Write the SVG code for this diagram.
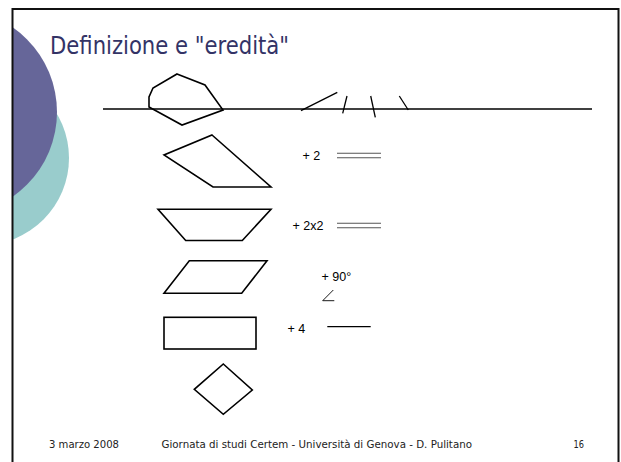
<svg xmlns="http://www.w3.org/2000/svg" width="621" height="462" viewBox="0 0 621 462">
<defs>
<style>
.sh{fill:none;stroke:#000;stroke-width:1.6;stroke-linejoin:miter}
.ln{stroke:#000;stroke-width:1.3;fill:none}
.dl{stroke:#555;stroke-width:1.1}
.lab{font-family:"Liberation Sans",Arial,sans-serif;font-size:12.5px;fill:#000}
.ft{font-family:"DejaVu Sans",Verdana,sans-serif;font-size:10px;fill:#222}
</style>
<clipPath id="cp"><rect x="13" y="10" width="605" height="452"/></clipPath>
</defs>
<rect width="621" height="462" fill="#fff"/>
<g id="deco" clip-path="url(#cp)">
<circle cx="-18" cy="158" r="87" fill="#99cccc"/>
<circle cx="-46" cy="112" r="103" fill="#666699"/>
</g>
<rect x="12.5" y="9" width="606" height="460" fill="none" stroke="#111" stroke-width="2"/>
<text id="title" x="50" y="54.3" font-family="DejaVu Sans,Verdana,sans-serif" font-size="24" fill="#333366" textLength="239" lengthAdjust="spacingAndGlyphs">Definizione e "eredità"</text>
<g id="baseline-line">
<line class="ln" x1="103" y1="109" x2="592" y2="109"/>
</g>
<g id="n-polygon"><polygon class="sh" points="177,74 205,85 223,110 182,125 149,107 149,97 153,88"/></g>
<g id="n-ticks">
<line class="ln" stroke-width="1.6" x1="301" y1="110.7" x2="337.3" y2="92.3"/>
<line class="ln" stroke-width="1.6" x1="342.7" y1="113.3" x2="347" y2="96"/>
<line class="ln" stroke-width="1.6" x1="370.7" y1="96" x2="375.3" y2="117.3"/>
<line class="ln" stroke-width="1.6" x1="399.3" y1="96" x2="408.3" y2="110"/>
</g>
<g id="n-quad">
<polygon class="sh" points="212,135 271,187 213,187 164,155"/>
<text class="lab" x="302.5" y="160">+ 2</text>
<line class="dl" x1="337" y1="153.3" x2="381" y2="153.3"/>
<line class="dl" x1="337" y1="157.7" x2="381" y2="157.7"/>
</g>
<g id="n-trapezoid">
<polygon class="sh" points="158,209.3 271,209.3 242.3,240.5 185.7,240.5"/>
<text class="lab" x="292.5" y="230">+ 2x2</text>
<line class="dl" x1="337" y1="223.3" x2="381" y2="223.3"/>
<line class="dl" x1="337" y1="227.7" x2="381" y2="227.7"/>
</g>
<g id="n-parallelogram">
<polygon class="sh" points="189.3,260.7 267,260.7 241.7,293.3 164,293.3"/>
<text class="lab" x="321.5" y="280.5">+ 90°</text>
<path d="M333.3,290 L322.7,300.7 L334.3,300.7" fill="none" stroke="#000" stroke-width="0.9"/>
</g>
<g id="n-rectangle">
<rect class="sh" x="164" y="317.3" width="92" height="31.7"/>
<text class="lab" x="287.5" y="332.5">+ 4</text>
<line class="ln" stroke-width="1.1" x1="327.3" y1="326.7" x2="370.7" y2="326.7"/>
</g>
<g id="n-diamond">
<polygon class="sh" points="223.3,364 252.3,390 223.3,414.3 194.3,389.3"/>
</g>
<g id="footer">
<text class="ft" x="49" y="448.3" textLength="70" lengthAdjust="spacingAndGlyphs">3 marzo 2008</text>
<text class="ft" x="161.5" y="448.3" textLength="310.5" lengthAdjust="spacingAndGlyphs">Giornata di studi Certem - Università di Genova - D. Pulitano</text>
<text class="ft" x="573.5" y="448.3" textLength="10.5" lengthAdjust="spacingAndGlyphs">16</text>
</g>
</svg>
